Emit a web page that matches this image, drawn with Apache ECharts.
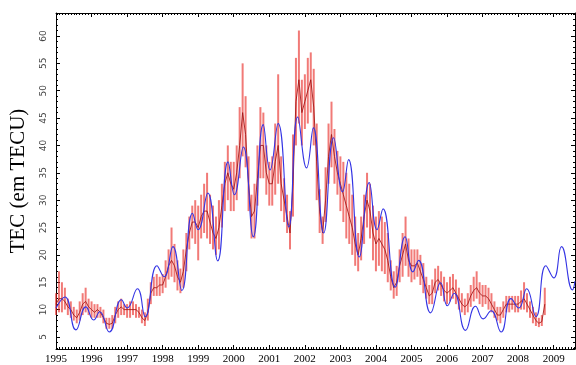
<!DOCTYPE html>
<html>
<head>
<meta charset="utf-8">
<script src="https://cdn.jsdelivr.net/npm/echarts@6/dist/echarts.min.js"></script>
<style>html,body{margin:0;padding:0;background:#fff}#c{width:576px;height:365px}</style>
</head>
<body>
<div id="c"></div>
<script>
// Measured TEC (red), monthly samples from 1995.0, step 1/12 year
const redStart = 1995;
const redMid = [
 11,12,12,11.5,10.5,10,9,8.5,9.5,11,11.5,10.5,
 10,9.5,10,9.5,8.5,7.5,7.3,7.5,9,10,10.5,10,
 10,10,10,10,9.5,8.5,8,9.5,13,14,14,14.5,
 14.5,16,18,19,18,16,15,17,21,24,26,26,
 25,27,28,28,26,24,23,25,29,33,35,33,
 32,35,40,46,42,33,27,28,34,40,40,35,
 33,33,37,40,33,30,27,24,33,48,52,46,
 48,50,52,47,37,28,24,30,38,42,38,35,
 33,31,29,27,25,22,20,23,27,30,28,24,
 22,23,22,21,19,16,14,15,18,20,22,19,
 18,18,18.5,17,15.5,14,12.5,13,15,15.5,14.5,13.5,
 13,13.5,14,13,12,11,10.5,11,12.5,13.5,14,13,
 12.5,12.5,12,11,10,9,9,10,11,11,11,11,
 11,11.5,12,11,10,9,8,7.5,7.8,11
];
const redLow = [
 9,9.5,9.5,10,9,8.5,8,7.5,8,9,9.5,9,
 8.5,8.5,8.5,8.5,7.5,6.5,6.5,6.5,7.5,8.5,9,9,
 8.5,8.5,9,8.5,8.5,7.5,7,8,11,12.5,12.5,12.5,
 13,14,15.5,16,15,13.5,13,14,17,21,23,22,
 19,23,24,23,22,21,20,21,25,28,30,28,
 28,30,34,38,36,28,23,23,29,34,34,31,
 29,29,31,33,28,26,24,21,27,40,44,40,
 43,44,46,40,30,24,22,26,33,36,33,31,
 28,26,23,22,20,18,17,19,22,25,23,19,
 17,18,17,16.5,15,13.5,12,12.5,15,16,18,16,
 15,15.5,16,14.5,13,12,11,11,13,13.5,12.5,11.5,
 11,11.5,12,11,10,9.5,9,9.5,10.5,11.5,12,11,
 10.5,11,10,9.5,8.5,8,7.5,8.5,9.5,9.5,10,9.5,
 9.5,10,10,9.5,8.5,7.5,7,6.8,7,9
];
const redHigh = [
 13,17,15,14,12,11.5,10.5,10,11.5,13,14,12,
 11.5,11,11,10.5,10,8.5,8.5,9,10.5,11.5,12,11,
 11,11.5,11.5,11,10.5,10,9.5,12,15,16,16.5,16,
 16.5,19,21,25,22,19,17.5,21,24,27,29,30,
 29,31,33,35,31,29,27,30,33,37,40,37,
 37,40,47,55,49,38,31,33,40,47,46,40,
 37,38,44,53,38,34,31,28,42,56,61,52,
 53,56,57,54,44,32,27,36,44,48,43,39,
 38,37,35,33,31,27,24,27,31,35,33,29,
 27,28,27,26,24,19,17,18,21,24,27,23,
 21,21,21,20,18.5,16,14.5,15.5,17.5,18,17,16,
 15,16,16.5,15.5,14,13,12,13,14.5,16,17,15,
 14.5,14.5,14,13,11.5,10.5,10.5,11.5,12.5,12.5,12.5,12.5,
 12.5,13.5,15,13,11.5,10.5,9.5,8.5,9,14
];
// Model TEC (blue), turning points
const blueX = [1995.0,1995.25,1995.56,1995.84,1996.06,1996.23,1996.5,1996.84,1997.0,1997.29,1997.51,1997.84,
 1998.04,1998.29,1998.54,1998.84,1999.0,1999.27,1999.55,1999.84,2000.02,2000.27,2000.55,2000.83,
 2001.02,2001.25,2001.55,2001.8,2002.05,2002.24,2002.53,2002.81,2003.06,2003.23,2003.53,2003.81,
 2004.03,2004.2,2004.54,2004.82,2005.04,2005.2,2005.54,2005.82,2006.01,2006.2,2006.52,2006.8,
 2007.02,2007.24,2007.52,2007.8,2008.02,2008.24,2008.5,2008.78,2009.0,2009.22,2009.53,2009.6];
const blueY = [10.3,12.3,6.3,10.5,8.1,9.6,5.9,11.8,10.3,13.8,8.7,18.0,
 16.0,21.5,13.5,27.6,24.6,31.3,18.9,37.0,31.0,39.7,23.3,43.8,
 35.5,44.0,25.1,45.2,35.9,43.2,24.0,41.4,31.5,37.4,19.6,33.2,
 24.6,28.4,14.1,23.3,16.9,19.0,9.4,14.9,10.7,13.0,6.2,10.6,
 8.3,9.8,5.9,12.0,10.3,13.8,8.7,18.0,15.8,21.5,13.6,15.2];

const yMin = 2.8, yMax = 64.2, xMin = 1995, xMax = 2009.6;

const redT = redMid.map((_, i) => +(redStart + i / 12).toFixed(4));
const bandData = redT.map((t, i) => [t, redLow[i], redHigh[i]]);
const midData = redT.map((t, i) => [t, redMid[i]]);
const blueData = blueX.map((t, i) => [t, blueY[i]]);

const axisLineStyle = { lineStyle: { color: '#000', width: 1 } };
const tickStyle = { show: true, inside: true, length: 4, lineStyle: { color: '#000', width: 1 } };
const minorX = { show: true, splitNumber: 12, length: 2, lineStyle: { color: '#000', width: 1 } };
const minorY = { show: true, splitNumber: 5, length: 2, lineStyle: { color: '#000', width: 1 } };

const chart = echarts.init(document.getElementById('c'), null, { renderer: 'canvas' });
chart.setOption({
  animation: false,
  backgroundColor: '#fff',
  grid: { left: 53, right: 1, top: 13, bottom: 16 },
  xAxis: [
    { type: 'value', min: xMin, max: xMax, interval: 1, position: 'bottom',
      axisLine: axisLineStyle, axisTick: tickStyle, minorTick: minorX, splitLine: { show: false },
      axisLabel: { show: true, showMaxLabel: false, margin: 5, color: '#000', fontSize: 11,
        fontFamily: 'Liberation Serif', formatter: v => String(Math.round(v)) } },
    { type: 'value', min: xMin, max: xMax, interval: 1, position: 'top',
      axisLine: axisLineStyle, axisTick: tickStyle, minorTick: minorX, splitLine: { show: false },
      axisLabel: { show: false } }
  ],
  yAxis: [
    { type: 'value', min: yMin, max: yMax, splitNumber: 12, position: 'left',
      name: 'TEC (em TECU)', nameLocation: 'middle', nameRotate: 90, nameGap: 27,
      nameTextStyle: { fontFamily: 'Liberation Serif', fontSize: 21, color: '#000' },
      axisLine: axisLineStyle, axisTick: tickStyle, minorTick: minorY, splitLine: { show: false },
      axisLabel: { show: true, rotate: 90, showMinLabel: false, showMaxLabel: false, margin: 8,
        color: '#444', fontSize: 9, fontFamily: 'DejaVu Sans' } },
    { type: 'value', min: yMin, max: yMax, splitNumber: 12, position: 'right',
      axisLine: axisLineStyle, axisTick: tickStyle, minorTick: minorY, splitLine: { show: false },
      axisLabel: { show: false } }
  ],
  series: [
    { type: 'custom', name: 'band', xAxisIndex: 0, yAxisIndex: 0, data: bandData,
      encode: { x: 0, y: [1, 2] }, clip: true, z: 2,
      renderItem: (params, api) => {
        const p1 = api.coord([api.value(0), api.value(1)]);
        const p2 = api.coord([api.value(0), api.value(2)]);
        return { type: 'line', shape: { x1: p1[0], y1: p1[1], x2: p2[0], y2: p2[1] },
          style: { stroke: 'rgba(232,40,35,0.62)', lineWidth: 2 } };
      } },
    { type: 'line', name: 'mid', data: midData, symbol: 'none', z: 3,
      lineStyle: { color: '#a01414', width: 1, opacity: 0.85 } },
    { type: 'line', name: 'model', data: blueData, symbol: 'none', smooth: 0.5, z: 4, clip: true,
      lineStyle: { color: '#3434e4', width: 1.1 } }
  ]
});
</script>
</body>
</html>
